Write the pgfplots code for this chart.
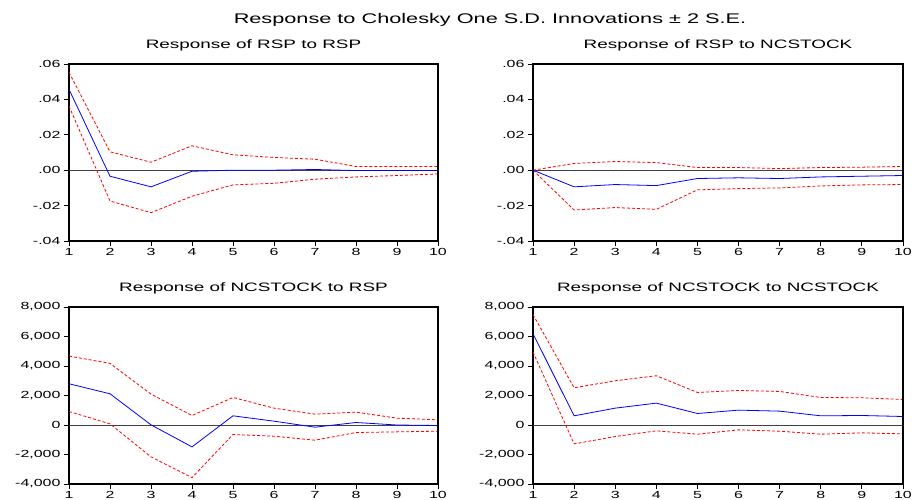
\documentclass[border=0pt]{standalone}
\usepackage{fontspec}
\setmainfont{Liberation Sans}[FakeStretch=1.55]
\usepackage{pgfplots}
\pgfplotsset{compat=1.18}
\definecolor{irfblue}{RGB}{0,0,255}
\definecolor{irfred}{RGB}{255,0,0}
\pgfplotsset{
  irf/.style={
    scale only axis, width=369bp, height=177bp,
    xmin=1, xmax=10, xtick={1,...,10},
    /pgf/number format/assume math mode=true,
    scaled y ticks=false, scaled x ticks=false,
    axis line style={line width=1.1bp},
    tick align=outside, xtick pos=left, ytick pos=left,
    major tick length=5bp,
    tick style={black, line width=0.8bp},
    ticklabel style={font=\fontsize{10.3bp}{12bp}\selectfont},
    xticklabel style={inner sep=2bp},
    title style={font=\fontsize{12.2bp}{14bp}\selectfont, at={(0.5,1)}, anchor=base, yshift=10bp},
    after end axis/.code={\draw[line width=1.8bp] (rel axis cs:1,0) -- (rel axis cs:1,1);},
  },
  small/.style={ymin=-0.04, ymax=0.06, ytick={-0.04,-0.02,0,0.02,0.04,0.06},
    yticklabels={-.04,-.02,.00,.02,.04,.06}},
  big/.style={ymin=-4000, ymax=8000, ytick={-4000,-2000,0,2000,4000,6000,8000},
    yticklabels={{-4,000},{-2,000},0,{2,000},{4,000},{6,000},{8,000}}},
  zero/.style={black!75, line width=0.7bp},
  resp/.style={irfblue, line width=0.8bp},
  band/.style={irfred, line width=0.8bp, dash pattern=on 3bp off 2bp},
}
\begin{document}
\begin{tikzpicture}
\path[use as bounding box] (0,0) rectangle (915bp,-500bp);
\node[font=\fontsize{14bp}{16bp}\selectfont, anchor=base] at (490bp,-23bp) {Response to Cholesky One S.D. Innovations ± 2 S.E.};

\begin{axis}[irf, small, at={(69bp,-64bp)}, anchor=north west, title={Response of RSP to RSP}]
\addplot[zero] coordinates {(1,0) (10,0)};
\addplot[band] coordinates {(1,0.0553) (2,0.0104) (3,0.0045) (4,0.0138) (5,0.0087) (6,0.0072) (7,0.0062) (8,0.0021) (9,0.0021) (10,0.0021)};
\addplot[band] coordinates {(1,0.0362) (2,-0.0174) (3,-0.0240) (4,-0.0147) (5,-0.0083) (6,-0.0074) (7,-0.0051) (8,-0.0038) (9,-0.0030) (10,-0.0021)};
\addplot[resp] coordinates {(1,0.0457) (2,-0.0034) (3,-0.0094) (4,-0.0006) (5,0.0000) (6,0.0000) (7,0.0004) (8,-0.0002) (9,-0.0002) (10,-0.0002)};
\end{axis}

\begin{axis}[irf, small, at={(533bp,-64bp)}, anchor=north west, width=370bp, title={Response of RSP to NCSTOCK}]
\addplot[zero] coordinates {(1,0) (10,0)};
\addplot[band] coordinates {(1,0) (2,0.0038) (3,0.0049) (4,0.0043) (5,0.0015) (6,0.0015) (7,0.0009) (8,0.0015) (9,0.0017) (10,0.0021)};
\addplot[band] coordinates {(1,0) (2,-0.0225) (3,-0.0211) (4,-0.0221) (5,-0.0111) (6,-0.0104) (7,-0.0100) (8,-0.0089) (9,-0.0083) (10,-0.0081)};
\addplot[resp] coordinates {(1,0) (2,-0.0094) (3,-0.0081) (4,-0.0087) (5,-0.0047) (6,-0.0043) (7,-0.0047) (8,-0.0038) (9,-0.0034) (10,-0.0030)};
\end{axis}

\begin{axis}[irf, big, at={(69bp,-307bp)}, anchor=north west, title={Response of NCSTOCK to RSP}]
\addplot[zero] coordinates {(1,0) (10,0)};
\addplot[band] coordinates {(1,4675) (2,4177) (3,2094) (4,645) (5,1867) (6,1143) (7,736) (8,872) (9,464) (10,351)};
\addplot[band] coordinates {(1,917) (2,79) (3,-2162) (4,-3566) (5,-645) (6,-758) (7,-1030) (8,-509) (9,-464) (10,-419)};
\addplot[resp] coordinates {(1,2796) (2,2117) (3,11) (4,-1483) (5,623) (6,260) (7,-147) (8,170) (9,0) (10,-34)};
\end{axis}

\begin{axis}[irf, big, at={(533bp,-307bp)}, anchor=north west, width=370bp, title={Response of NCSTOCK to NCSTOCK}]
\addplot[zero] coordinates {(1,0) (10,0)};
\addplot[band] coordinates {(1,7483) (2,2524) (3,3000) (4,3339) (5,2207) (6,2343) (7,2275) (8,1867) (9,1845) (10,1732)};
\addplot[band] coordinates {(1,4947) (2,-1279) (3,-781) (4,-396) (5,-623) (6,-328) (7,-419) (8,-623) (9,-532) (10,-600)};
\addplot[resp] coordinates {(1,6192) (2,623) (3,1143) (4,1483) (5,781) (6,1008) (7,940) (8,623) (9,645) (10,577)};
\end{axis}
\end{tikzpicture}
\end{document}
